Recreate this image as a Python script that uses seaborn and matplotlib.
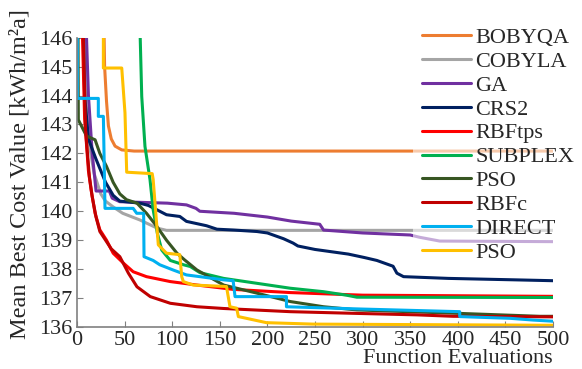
import matplotlib
matplotlib.use("Agg")
import matplotlib.pyplot as plt
import seaborn as sns

# data (x = function evaluations, y = mean best cost)
bobyqa_x = [28, 29, 31, 33, 36, 40, 47, 60, 500]
bobyqa_y = [147, 145, 143.8, 142.95, 142.5, 142.25, 142.12, 142.08, 142.08]

cobyla_x = [8, 9, 12, 18, 25, 30, 38, 48, 66, 84, 94, 500]
cobyla_y = [147, 144, 142.5, 141.3, 140.6, 140.35, 140.15, 139.93, 139.7, 139.42, 139.34, 139.34]

ga_x = [9, 12, 16, 20, 34, 37, 45, 95, 115, 125, 129, 165, 200, 225, 255, 259, 300, 350, 360, 381, 500]
ga_y = [147, 144, 142, 140.7, 140.7, 140.45, 140.33, 140.28, 140.22, 140.1, 140.0, 139.93,
        139.8, 139.66, 139.55, 139.35, 139.25, 139.18, 139.1, 138.97, 138.95]

crs2_x = [6, 8, 12, 20, 30, 38, 45, 66, 75, 84, 94, 108, 115, 136, 147, 165, 189, 200, 217,
          227, 232, 250, 285, 302, 315, 332, 336, 343, 390, 460, 500]
crs2_y = [147, 144, 142.5, 141.8, 141.0, 140.55, 140.35, 140.28, 140.2, 140.05, 139.88, 139.82,
          139.65, 139.5, 139.38, 139.35, 139.3, 139.25, 139.05, 138.9, 138.8, 138.68, 138.52,
          138.4, 138.3, 138.1, 137.86, 137.74, 137.68, 137.63, 137.6]

rbftps_x = [5, 8, 12, 15, 19, 24, 31, 38, 49, 59, 73, 98, 126, 164, 224, 300, 400, 500]
rbftps_y = [147, 143.2, 141.4, 140.7, 139.93, 139.36, 139.0, 138.55, 138.2, 137.91, 137.74,
            137.57, 137.45, 137.3, 137.19, 137.1, 137.08, 137.06]

subplex_x = [66, 68, 71.4, 76.7, 80, 84.4, 89, 98, 112, 119, 129, 154, 189, 224, 259, 283, 294, 500]
subplex_y = [146.5, 143.97, 142.24, 141.09, 140.05, 139.24, 138.66, 138.3, 138.15, 138.09,
             137.88, 137.68, 137.51, 137.34, 137.22, 137.1, 137.03, 137.02]

pso_x = [1, 1.4, 10, 19, 24, 31, 38, 45, 52, 63, 73, 84, 94, 105, 113, 126, 154, 189, 224,
         259, 294, 402, 486, 500]
pso_y = [147, 143.16, 142.6, 142.47, 142.0, 141.55, 141.0, 140.6, 140.4, 140.28, 139.93, 139.47,
         139.0, 138.55, 138.32, 137.97, 137.45, 137.17, 136.88, 136.7, 136.59, 136.47, 136.37, 136.37]

rbfc_x = [6, 9, 13, 16, 20, 24, 28, 36, 45, 54, 63, 77, 98, 126, 154, 224, 294, 357, 395, 500]
rbfc_y = [147, 142.8, 141.2, 140.5, 139.8, 139.3, 139.1, 138.7, 138.43, 137.86, 137.39, 137.05,
          136.82, 136.7, 136.64, 136.53, 136.47, 136.42, 136.37, 136.35]

direct_x = [0.4, 0.4, 22.4, 22.4, 27.7, 29.4, 59, 62.7, 70, 70.4, 80, 87, 101, 115, 129, 154,
            164, 166, 220, 220, 300, 402, 402, 455, 479, 500]
direct_y = [147, 143.9, 143.9, 143.28, 143.28, 140.1, 140.1, 139.93, 139.93, 138.43, 138.3, 138.15,
            137.97, 137.8, 137.74, 137.63, 137.6, 137.05, 137.05, 136.7, 136.62, 136.53, 136.36,
            136.3, 136.24, 136.2]

pso2_x = [27.7, 27.7, 47, 50.4, 52.2, 79, 80, 85.4, 94, 108, 110, 111.7, 122, 157, 160.7,
          167.7, 169.5, 199, 248, 500]
pso2_y = [147, 144.95, 144.95, 143.4, 141.35, 141.3, 141.1, 138.84, 138.55, 138.5, 137.74,
          137.57, 137.45, 137.4, 136.7, 136.65, 136.36, 136.15, 136.1, 136.06]

series = [
    ("BOBYQA", bobyqa_x, bobyqa_y, "#ED7D31"),
    ("COBYLA", cobyla_x, cobyla_y, "#A5A5A5"),
    ("GA", ga_x, ga_y, "#7030A0"),
    ("CRS2", crs2_x, crs2_y, "#002060"),
    ("RBFtps", rbftps_x, rbftps_y, "#FF0000"),
    ("SUBPLEX", subplex_x, subplex_y, "#00B050"),
    ("PSO", pso_x, pso_y, "#375623"),
    ("RBFc", rbfc_x, rbfc_y, "#C00000"),
    ("DIRECT", direct_x, direct_y, "#00B0F0"),
    ("PSO", pso2_x, pso2_y, "#FFC000"),
]

sns.set_style("white")
plt.rcParams["font.family"] = ["Liberation Serif", "DejaVu Serif"]

fig = plt.figure(figsize=(5.82, 3.69), dpi=100)
ax = fig.add_axes([0.1323, 0.1138, 0.8179, 0.7842])

for nom, xs, ys, couleur in series:
    sns.lineplot(x=xs, y=ys, color=couleur, label=nom, estimator=None, sort=False,
                 linewidth=2.2, ax=ax)

ax.set_xlim(0, 500)
ax.set_ylim(136, 146)
ax.set_xticks(range(0, 501, 50))
ax.set_yticks(range(136, 147))
for s in ["top", "right"]:
    ax.spines[s].set_visible(False)
for s in ["left", "bottom"]:
    ax.spines[s].set_color("#808080")
    ax.spines[s].set_linewidth(1.2)
ax.tick_params(direction="in", length=4, color="#808080", labelsize=16, pad=3,
               left=True, bottom=True)

ax.set_xlabel("Function Evaluations", fontsize=16, loc="right", labelpad=-1)
ax.set_ylabel("Mean Best Cost Value [kWh/m²a]", fontsize=17.5)
# le titre de l'axe y est un peu décalé vers le haut dans l'original
ax.yaxis.set_label_coords(-0.097, 0.53)

ax.legend(loc="upper left", bbox_to_anchor=(0.7096, 0.95), bbox_transform=fig.transFigure,
          fontsize=16, handlelength=2.2, handletextpad=0.2, labelspacing=0.15,
          borderpad=0.4, borderaxespad=0, frameon=True, framealpha=0.6,
          edgecolor="none", facecolor="white", fancybox=False)

fig.savefig("out.png", dpi=100)
